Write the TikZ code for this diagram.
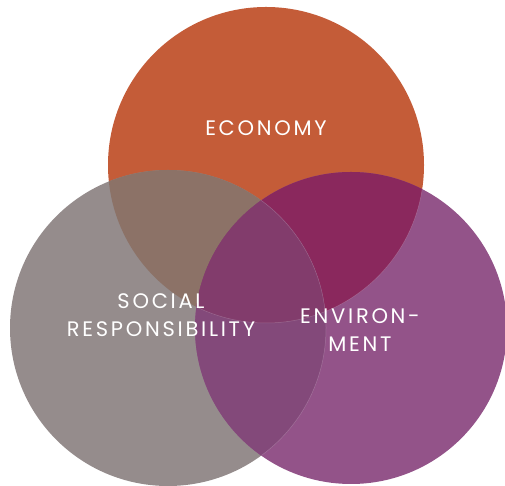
\documentclass[tikz,border=0pt]{standalone}
\usepackage{fontspec}
\usepackage{tikz}
\newfontfamily\vennfont[LetterSpace=13]{Poppins}

\definecolor{ecocol}{HTML}{C45C38}
\definecolor{soccol}{HTML}{958C8C}
\definecolor{envcol}{HTML}{935389}
\definecolor{ecosoc}{HTML}{8C7267}
\definecolor{ecoenv}{HTML}{8A285D}
\definecolor{socenv}{HTML}{83497A}
\definecolor{allcol}{HTML}{823C6C}

\begin{document}
\begin{tikzpicture}[x=1pt, y=1pt, font=\vennfont\fontsize{21}{28}\selectfont,
	lbl/.style={text=white, align=center, inner sep=0pt},
	rim/.style={draw=white, draw opacity=0.2, line width=0.5pt}]
		\useasboundingbox (0,0) rectangle (505,486);
		% centres
		\coordinate (eco) at (266,321);
		\coordinate (soc) at (168,158);
		\coordinate (env) at (351,158);
		% circles
		\fill[ecocol] (eco) circle[radius=158];
		\fill[soccol] (soc) circle[radius=158];
		\fill[envcol] (env) circle[radius=156];
		% overlaps of two
		\foreach \a/\ra/\b/\rb/\c in {eco/158/soc/158/ecosoc, eco/158/env/156/ecoenv, soc/158/env/156/socenv} {
			\begin{scope}
				\clip (\a) circle[radius=\ra];
				\fill[\c] (\b) circle[radius=\rb];
			\end{scope}
		}
		% overlap of all three
		\begin{scope}
			\clip (eco) circle[radius=158];
			\clip (soc) circle[radius=158];
			\fill[allcol] (env) circle[radius=156];
		\end{scope}
		% faint rims inside the purple circle
		\begin{scope}
			\clip (env) circle[radius=156];
			\path[rim] (eco) circle[radius=158];
			\path[rim] (soc) circle[radius=158];
		\end{scope}
		% labels
		\node[lbl] (economy) at (266,358) {ECONOMY};
		\node[lbl] (social) at (161,171) {SOCIAL\\RESPONSIBILITY};
		\node[lbl] (environment) at (360,156) {ENVIRON-\\MENT};
	\end{tikzpicture}
\end{document}
